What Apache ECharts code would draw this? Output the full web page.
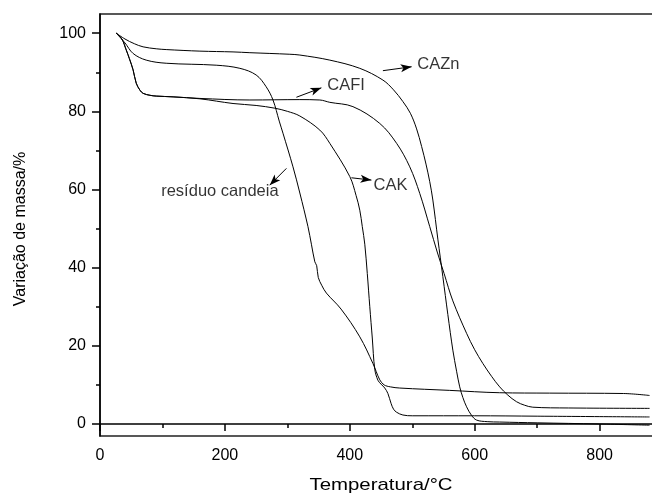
<!DOCTYPE html>
<html>
<head>
<meta charset="utf-8">
<script src="https://cdn.jsdelivr.net/npm/echarts@6/dist/echarts.min.js"></script>
<style>html,body{margin:0;padding:0;background:#fff;overflow:hidden;width:652px;height:497px}#c{width:740px;height:497px}</style>
</head>
<body>
<div id="c"></div>
<script>
// ---- data (temperature °C, mass %) ----
const caznT = [26, 40, 55, 69, 90, 106, 160, 213, 240, 304, 320, 368, 416, 453, 470, 485, 497, 507, 515, 522, 528, 533, 541, 549, 557, 565, 571, 576, 581, 587, 595, 603, 620, 640, 700, 800, 880];
const caznM = [100, 98.5, 97.3, 96.5, 96.0, 95.8, 95.4, 95.2, 95.0, 94.6, 94.4, 93.1, 91.0, 88.0, 85.5, 82.5, 79.5, 75.5, 71.0, 66.5, 62.0, 57.3, 47.3, 37.7, 28.0, 18.9, 13.5, 9.5, 6.8, 4.4, 2.2, 1.0, 0.6, 0.5, 0.3, 0.0, -0.3];

const residuoT = [26, 40, 53, 74, 106, 186, 224, 250, 266, 277, 287, 293, 309, 320, 333, 338.5, 344, 347, 349.5, 355, 362.5, 386, 416, 437, 448, 455, 465, 480, 560, 640, 720, 838, 880];
const residuoM = [100, 97.5, 94.8, 93.1, 92.3, 91.8, 91.0, 89.3, 86.3, 82.9, 77.5, 74.4, 65.8, 59.1, 50.5, 46.0, 41.5, 40.5, 37.5, 35.5, 33.5, 29.4, 22.3, 15.5, 11.3, 10.0, 9.5, 9.2, 8.6, 8.0, 7.9, 7.8, 7.3];

const cakT = [26, 35, 42, 47, 53, 58, 64, 69, 80, 90, 117, 160, 213, 250, 280, 300, 320, 352, 368, 400, 410, 416, 420, 424, 428, 432, 436, 440, 445, 450, 456, 461, 466, 470, 475, 485, 500, 600, 700, 880];
const cakM = [100, 98.5, 95.7, 93.5, 90.6, 87.2, 85.4, 84.6, 84.1, 83.9, 83.7, 83.2, 82.0, 81.5, 80.8, 80.0, 78.8, 75.2, 71.8, 63.3, 58.5, 54.7, 50.5, 46.0, 38.5, 30.0, 22.0, 14.0, 11.2, 10.2, 9.2, 7.8, 5.3, 3.8, 3.0, 2.3, 2.1, 2.1, 2.0, 1.8];

const cafiT = [26, 35, 42, 47, 53, 58, 64, 69, 80, 90, 117, 160, 240, 320, 352, 368, 405, 448, 475, 496, 512, 528, 540, 551, 565, 587, 600, 613, 627, 640, 653, 667, 680, 693, 750, 880];
const cafiM = [100, 98.5, 95.7, 93.5, 90.6, 87.2, 85.4, 84.6, 84.1, 83.9, 83.7, 83.3, 82.9, 83.0, 82.9, 82.3, 81.2, 76.9, 71.8, 65.8, 59.0, 50.5, 44.0, 38.5, 31.5, 23.2, 19.0, 15.5, 12.2, 9.5, 7.4, 5.7, 4.8, 4.3, 4.1, 4.0];

// axis ticks
const xTicks = [0, 200, 400, 600, 800];
const yTicks = [0, 20, 40, 60, 80, 100];

// annotations: label text, label anchor (T, M), arrow tail and head (T, M)
const labelNames = ['CAZn', 'CAFI', 'CAK', 'resíduo candeia'];
const labelPos = [[508, 92.0], [364, 86.5], [438, 61.0], [192, 59.4]];
const arrowFrom = [[453, 90.4], [314.5, 83.6], [402.6, 63.0], [298.5, 65.4]];
const arrowTo = [[499, 91.4], [354.5, 86.0], [434.6, 62.4], [271.7, 61.1]];

const FONT = '"Liberation Sans", Arial, sans-serif';
const zip = (a, b) => a.map((v, i) => [v, b[i]]);

const chart = echarts.init(document.getElementById('c'), null, {renderer: 'canvas'});

const lineSeries = (name, T, M) => ({
  name, type: 'line', xAxisIndex: 0, yAxisIndex: 0,
  data: zip(T, M), showSymbol: false, symbol: 'none',
  smooth: 0.35,
  lineStyle: {color: '#000', width: 1}, silent: true, animation: false, clip: true
});

const option = {
  backgroundColor: '#fff',
  animation: false,
  grid: [
    {left: 100, top: 14, width: 624.5, height: 422, outerBoundsMode: 'none', containLabel: false,
     show: true, borderColor: '#222', borderWidth: 1.5, backgroundColor: 'transparent'},
    {left: 100, top: 33.2, width: 10, height: 390.8, outerBoundsMode: 'none', containLabel: false}
  ],
  xAxis: [
    {type: 'value', gridIndex: 0, min: 0, max: 1000, interval: 200,
     axisLine: {show: true, lineStyle: {color: '#000', width: 1.5}},
     axisTick: {show: true, length: 7, lineStyle: {color: '#000', width: 1.5}},
     minorTick: {show: true, splitNumber: 2, length: 4, lineStyle: {color: '#000', width: 1.5}},
     splitLine: {show: false},
     axisLabel: {show: true, color: '#000', fontSize: 16, fontFamily: FONT, margin: 12,
       formatter: v => (xTicks.indexOf(v) >= 0 ? String(v) : '')}},
    {type: 'value', gridIndex: 1, min: 0, max: 1, show: false}
  ],
  yAxis: [
    {type: 'value', gridIndex: 0, min: -3.07, max: 104.9,
     axisLine: {show: true, lineStyle: {color: '#000', width: 1.5}},
     axisTick: {show: false}, axisLabel: {show: false}, splitLine: {show: false}},
    {type: 'value', gridIndex: 1, min: 0, max: 100, interval: 20,
     axisLine: {show: false},
     axisTick: {show: true, length: 8, lineStyle: {color: '#000', width: 1.5}},
     minorTick: {show: true, splitNumber: 2, length: 4, lineStyle: {color: '#000', width: 1.5}},
     splitLine: {show: false},
     axisLabel: {show: true, color: '#000', fontSize: 16, fontFamily: FONT, margin: 14,
       formatter: v => (yTicks.indexOf(v) >= 0 ? String(v) : '')}}
  ],
  series: [
    lineSeries('CAZn', caznT, caznM),
    lineSeries('resíduo candeia', residuoT, residuoM),
    lineSeries('CAK', cakT, cakM),
    lineSeries('CAFI', cafiT, cafiM),
    {
      name: 'labels', type: 'scatter', xAxisIndex: 0, yAxisIndex: 0,
      symbolSize: 0, silent: true, animation: false,
      data: labelNames.map((n, i) => ({
        name: n, value: labelPos[i],
        label: {show: true, formatter: '{b}', color: '#000', fontSize: 16.5, fontFamily: FONT,
          position: i === 3 ? 'inside' : 'right', distance: 0}
      })),
      markLine: {
        silent: true, animation: false,
        symbol: ['none', 'arrow'], symbolSize: [6, 11],
        lineStyle: {color: '#000', width: 1, type: 'solid'},
        label: {show: false},
        data: arrowFrom.map((p, i) => [{coord: p}, {coord: arrowTo[i]}])
      }
    }
  ],
  graphic: [
    {type: 'text', x: 21, y: 229, rotation: Math.PI / 2, silent: true,
     style: {text: 'Variação de massa/%', font: '16px ' + FONT, fill: '#000',
       textAlign: 'center', textVerticalAlign: 'middle', align: 'center', verticalAlign: 'middle'}},
    {type: 'text', x: 381, y: 485, scaleX: 1.2, silent: true,
     style: {text: 'Temperatura/°C', font: '17px ' + FONT, fill: '#000',
       textAlign: 'center', textVerticalAlign: 'middle', align: 'center', verticalAlign: 'middle'}}
  ]
};
chart.setOption(option);
</script>
</body>
</html>
